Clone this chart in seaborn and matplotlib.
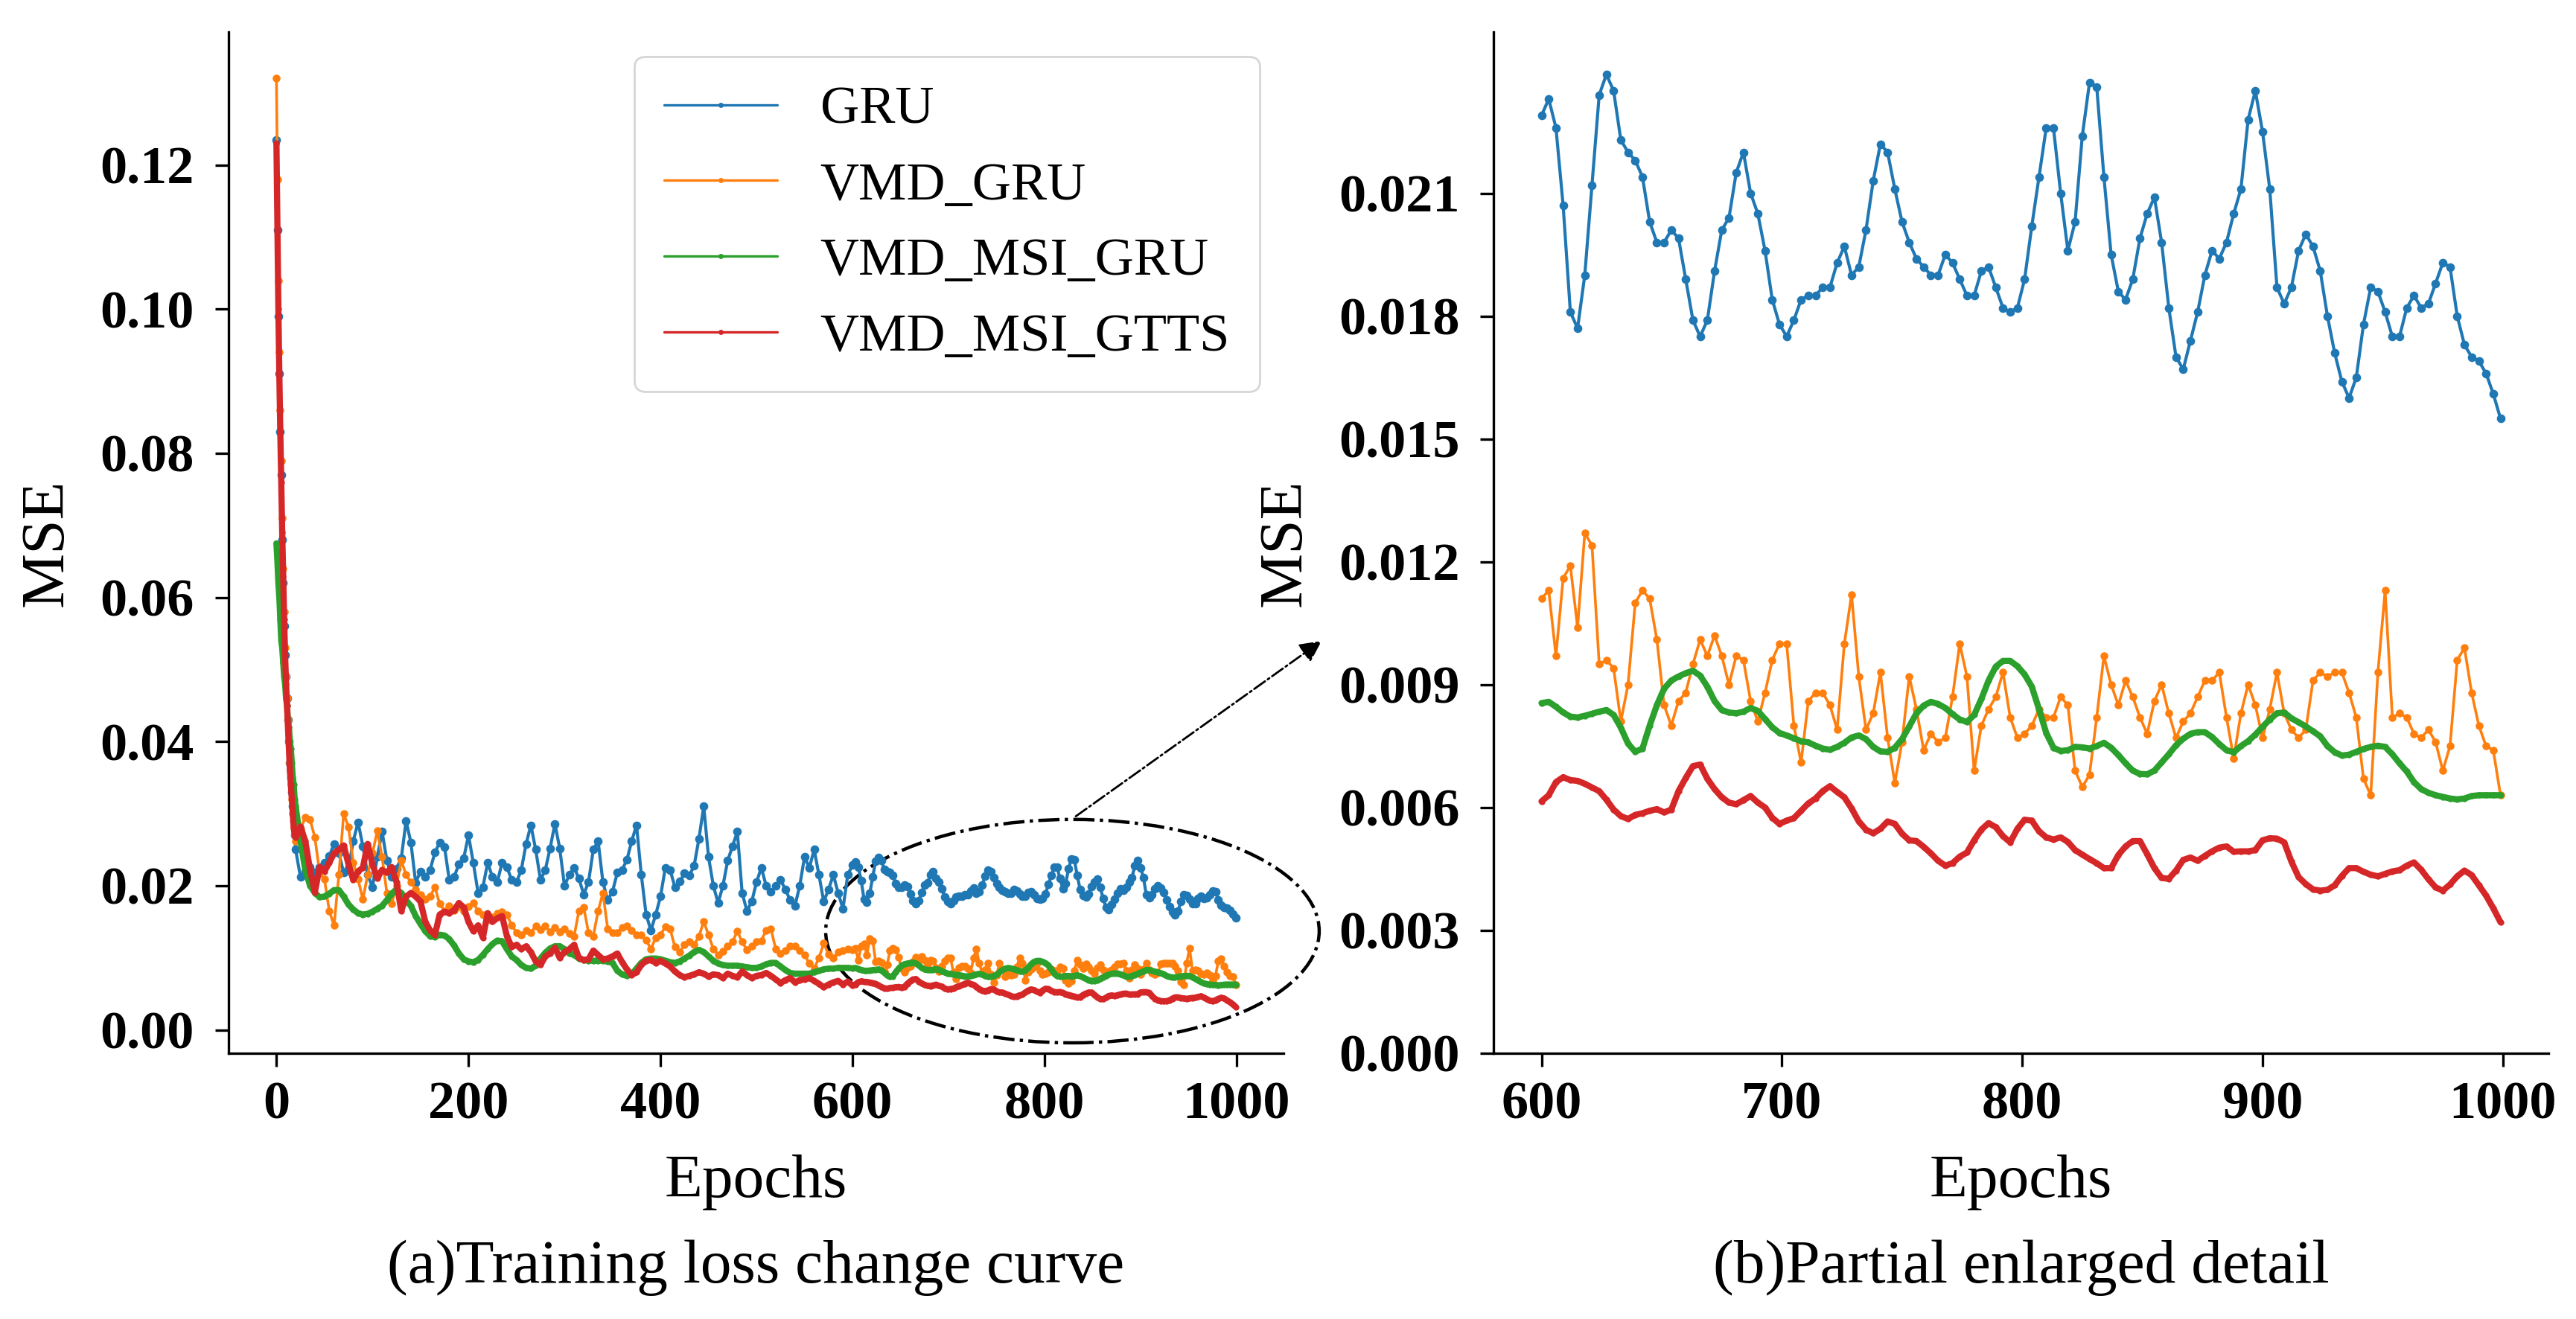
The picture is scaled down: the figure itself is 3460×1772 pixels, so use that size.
import matplotlib
matplotlib.use('Agg')
import numpy as np
import pandas as pd
import matplotlib.pyplot as plt
from matplotlib.patches import Ellipse
from matplotlib.lines import Line2D
import seaborn as sns

sns.set_style('ticks')
plt.rcParams['font.family'] = ['Liberation Serif', 'DejaVu Serif']
plt.rcParams['text.color'] = 'black'
plt.rcParams['axes.labelcolor'] = 'black'
plt.rcParams['xtick.color'] = 'black'
plt.rcParams['ytick.color'] = 'black'

MODELS = ['GRU', 'VMD_GRU', 'VMD_MSI_GRU', 'VMD_MSI_GTTS']
COLORS = ['#1f77b4', '#ff7f0e', '#2ca02c', '#d62728']

EPOCHS = list(range(0, 20)) + list(range(20, 600, 5)) + list(range(600, 1000, 3))

XTICKS_A = [0, 200, 400, 600, 800, 1000]
YTICKS_A = [0.00, 0.02, 0.04, 0.06, 0.08, 0.10, 0.12]
XTICKS_B = [600, 700, 800, 900, 1000]
YTICKS_B = [0.000, 0.003, 0.006, 0.009, 0.012, 0.015, 0.018, 0.021]

# ---- GRU ----
gru_early = [0.1235, 0.111, 0.099, 0.091, 0.083, 0.077, 0.068, 0.062, 0.056, 0.052,
             0.049, 0.046, 0.043, 0.040, 0.037, 0.035, 0.033, 0.031, 0.029, 0.027]
gru_mid = [0.0250, 0.0212, 0.0220, 0.0226, 0.0218, 0.0226, 0.0232, 0.0241, 0.0258, 0.0245,
           0.0218, 0.0224, 0.0262, 0.0288, 0.0255, 0.0215, 0.0198, 0.0240, 0.0275, 0.0235,
           0.0212, 0.0224, 0.0238, 0.0290, 0.0260, 0.0204, 0.0220, 0.0212, 0.0222, 0.0246,
           0.0260, 0.0254, 0.0208, 0.0212, 0.0230, 0.0238, 0.0270, 0.0232, 0.0190, 0.0198,
           0.0232, 0.0212, 0.0205, 0.0232, 0.0226, 0.0208, 0.0205, 0.0222, 0.0258, 0.0284,
           0.0250, 0.0208, 0.0222, 0.0252, 0.0286, 0.0252, 0.0200, 0.0215, 0.0225, 0.0210,
           0.0188, 0.0205, 0.0250, 0.0262, 0.0205, 0.0180, 0.0192, 0.0218, 0.0222, 0.0236,
           0.0262, 0.0284, 0.0215, 0.0160, 0.0138, 0.0160, 0.0185, 0.0225, 0.0222, 0.0198,
           0.0206, 0.0217, 0.0214, 0.0228, 0.0265, 0.0310, 0.0240, 0.0200, 0.0176, 0.0200,
           0.0235, 0.0255, 0.0275, 0.0190, 0.0165, 0.0178, 0.0205, 0.0225, 0.0200, 0.0192,
           0.0200, 0.0208, 0.0195, 0.0180, 0.0172, 0.0200, 0.0240, 0.0225, 0.0250, 0.0215,
           0.0178, 0.0195, 0.0215, 0.0190, 0.0168, 0.0215]
gru_late = [0.0229, 0.0233, 0.0226, 0.0207, 0.0181, 0.0177, 0.0190, 0.0212, 0.0234, 0.0239,
            0.0235, 0.0223, 0.0220, 0.0218, 0.0214, 0.0203, 0.0198, 0.0198, 0.0201, 0.0199,
            0.0189, 0.0179, 0.0175, 0.0179, 0.0191, 0.0201, 0.0204, 0.0215, 0.0220, 0.0210,
            0.0205, 0.0196, 0.0184, 0.0178, 0.0175, 0.0179, 0.0184, 0.0185, 0.0185, 0.0187,
            0.0187, 0.0193, 0.0197, 0.0190, 0.0192, 0.0201, 0.0213, 0.0222, 0.0220, 0.0211,
            0.0203, 0.0198, 0.0194, 0.0192, 0.0190, 0.0190, 0.0195, 0.0193, 0.0189, 0.0185,
            0.0185, 0.0191, 0.0192, 0.0187, 0.0182, 0.0181, 0.0182, 0.0189, 0.0202, 0.0214,
            0.0226, 0.0226, 0.0210, 0.0196, 0.0203, 0.0224, 0.0237, 0.0236, 0.0214, 0.0195,
            0.0186, 0.0184, 0.0189, 0.0199, 0.0205, 0.0209, 0.0198, 0.0182, 0.0170, 0.0167,
            0.0174, 0.0181, 0.0190, 0.0196, 0.0194, 0.0198, 0.0205, 0.0211, 0.0228, 0.0235,
            0.0225, 0.0211, 0.0187, 0.0183, 0.0187, 0.0196, 0.0200, 0.0197, 0.0191, 0.0180,
            0.0171, 0.0164, 0.0160, 0.0165, 0.0178, 0.0187, 0.0186, 0.0181, 0.0175, 0.0175,
            0.0182, 0.0185, 0.0182, 0.0183, 0.0188, 0.0193, 0.0192, 0.0180, 0.0173, 0.0170,
            0.0169, 0.0166, 0.0161, 0.0155]

# ---- VMD_GRU ----
vmd_gru_early = [0.132, 0.118, 0.104, 0.094, 0.086, 0.079, 0.071, 0.064, 0.058, 0.053,
                 0.049, 0.046, 0.043, 0.040, 0.037, 0.034, 0.032, 0.030, 0.028, 0.027]
vmd_gru_mid = [0.0262, 0.0278, 0.0295, 0.0292, 0.0267, 0.0218, 0.0209, 0.0165, 0.0145, 0.0215,
               0.0300, 0.0282, 0.0232, 0.0209, 0.0181, 0.0215, 0.0245, 0.0276, 0.0240, 0.0190,
               0.0175, 0.0200, 0.0235, 0.0215, 0.0205, 0.0195, 0.0188, 0.0181, 0.0185, 0.0198,
               0.0175, 0.0165, 0.0172, 0.0166, 0.0171, 0.0165, 0.0171, 0.0176, 0.0165, 0.0160,
               0.0152, 0.0157, 0.0162, 0.0164, 0.0160, 0.0145, 0.0135, 0.0132, 0.0138, 0.0135,
               0.0144, 0.0139, 0.0144, 0.0136, 0.0142, 0.0136, 0.0140, 0.0134, 0.0130, 0.0165,
               0.0170, 0.0135, 0.0130, 0.0165, 0.0190, 0.0140, 0.0135, 0.0135, 0.0142, 0.0144,
               0.0138, 0.0132, 0.0132, 0.0125, 0.0112, 0.0128, 0.0132, 0.0143, 0.0140, 0.0115,
               0.0108, 0.0118, 0.0122, 0.0118, 0.0130, 0.0150, 0.0132, 0.0112, 0.0104, 0.0109,
               0.0116, 0.0122, 0.0137, 0.0122, 0.0111, 0.0116, 0.0122, 0.0124, 0.0138, 0.0140,
               0.0112, 0.0106, 0.0110, 0.0116, 0.0116, 0.0110, 0.0104, 0.0092, 0.0085, 0.0100,
               0.0120, 0.0105, 0.0100, 0.0108, 0.0110, 0.0112]
vmd_gru_late = [0.0111, 0.0113, 0.0097, 0.0116, 0.0119, 0.0104, 0.0127, 0.0124, 0.0095, 0.0096,
                0.0094, 0.0081, 0.0090, 0.0110, 0.0113, 0.0111, 0.0101, 0.0085, 0.0080, 0.0086,
                0.0088, 0.0095, 0.0101, 0.0097, 0.0102, 0.0097, 0.0090, 0.0097, 0.0096, 0.0086,
                0.0081, 0.0088, 0.0096, 0.0100, 0.0100, 0.0080, 0.0071, 0.0086, 0.0088, 0.0088,
                0.0085, 0.0079, 0.0100, 0.0112, 0.0092, 0.0079, 0.0083, 0.0093, 0.0077, 0.0066,
                0.0076, 0.0092, 0.0084, 0.0074, 0.0078, 0.0076, 0.0077, 0.0087, 0.0100, 0.0092,
                0.0069, 0.0080, 0.0084, 0.0087, 0.0093, 0.0082, 0.0077, 0.0078, 0.0080, 0.0084,
                0.0082, 0.0082, 0.0087, 0.0085, 0.0069, 0.0065, 0.0068, 0.0082, 0.0097, 0.0090,
                0.0085, 0.0091, 0.0087, 0.0082, 0.0078, 0.0086, 0.0090, 0.0083, 0.0077, 0.0081,
                0.0083, 0.0087, 0.0091, 0.0091, 0.0093, 0.0082, 0.0072, 0.0083, 0.0090, 0.0085,
                0.0077, 0.0084, 0.0093, 0.0083, 0.0079, 0.0077, 0.0079, 0.0091, 0.0093, 0.0092,
                0.0093, 0.0093, 0.0088, 0.0082, 0.0067, 0.0063, 0.0093, 0.0113, 0.0082, 0.0083,
                0.0082, 0.0078, 0.0077, 0.0079, 0.0076, 0.0069, 0.0075, 0.0096, 0.0099, 0.0088,
                0.0080, 0.0075, 0.0074, 0.0063]

# ---- VMD_MSI_GRU ----
vmd_msi_gru_early = [0.0675, 0.065, 0.062, 0.060, 0.057, 0.054, 0.053, 0.051, 0.049, 0.048,
                     0.046, 0.045, 0.043, 0.042, 0.040, 0.039, 0.037, 0.035, 0.034, 0.032]
vmd_msi_gru_mid = [0.0310, 0.0262, 0.0222, 0.0200, 0.0190, 0.0184, 0.0185, 0.0189, 0.0194, 0.0194,
                   0.0185, 0.0174, 0.0167, 0.0162, 0.0160, 0.0161, 0.0164, 0.0168, 0.0172, 0.0180,
                   0.0189, 0.0195, 0.0190, 0.0180, 0.0172, 0.0158, 0.0147, 0.0137, 0.0130, 0.0129,
                   0.0132, 0.0131, 0.0126, 0.0117, 0.0106, 0.0098, 0.0095, 0.0094, 0.0097, 0.0104,
                   0.0112, 0.0119, 0.0124, 0.0123, 0.0112, 0.0102, 0.0097, 0.0090, 0.0086, 0.0085,
                   0.0089, 0.0099, 0.0107, 0.0113, 0.0116, 0.0116, 0.0112, 0.0106, 0.0104, 0.0099,
                   0.0097, 0.0096, 0.0096, 0.0096, 0.0096, 0.0095, 0.0093, 0.0082, 0.0077, 0.0075,
                   0.0077, 0.0085, 0.0093, 0.0098, 0.0099, 0.0099, 0.0098, 0.0096, 0.0094, 0.0093,
                   0.0095, 0.0099, 0.0103, 0.0108, 0.0111, 0.0108, 0.0102, 0.0096, 0.0092, 0.0090,
                   0.0089, 0.0089, 0.0089, 0.0088, 0.0087, 0.0086, 0.0086, 0.0088, 0.0091, 0.0093,
                   0.0093, 0.0088, 0.0083, 0.0079, 0.0078, 0.0078, 0.0078, 0.0078, 0.0080, 0.0082,
                   0.0084, 0.0085, 0.0085, 0.0086, 0.0086, 0.0086]
vmd_msi_gru_late = [0.00855, 0.00858, 0.00846, 0.00832, 0.00822, 0.00820, 0.00824, 0.00829, 0.00834, 0.00838,
                    0.00826, 0.00795, 0.00756, 0.00736, 0.00744, 0.00800, 0.00850, 0.00890, 0.00910, 0.00920,
                    0.00928, 0.00934, 0.00922, 0.00895, 0.00860, 0.00838, 0.00832, 0.00830, 0.00834, 0.00843,
                    0.00836, 0.00816, 0.00796, 0.00782, 0.00776, 0.00769, 0.00762, 0.00759, 0.00751, 0.00744,
                    0.00741, 0.00748, 0.00758, 0.00771, 0.00776, 0.00767, 0.00748, 0.00737, 0.00736, 0.00746,
                    0.00767, 0.00798, 0.00830, 0.00849, 0.00858, 0.00853, 0.00843, 0.00828, 0.00815, 0.00809,
                    0.00826, 0.00865, 0.00910, 0.00944, 0.00958, 0.00958, 0.00945, 0.00925, 0.00895, 0.00840,
                    0.00782, 0.00746, 0.00738, 0.00740, 0.00748, 0.00747, 0.00744, 0.00750, 0.00758, 0.00746,
                    0.00728, 0.00708, 0.00690, 0.00682, 0.00681, 0.00690, 0.00710, 0.00730, 0.00752, 0.00768,
                    0.00780, 0.00784, 0.00784, 0.00772, 0.00755, 0.00740, 0.00735, 0.00750, 0.00762, 0.00778,
                    0.00797, 0.00815, 0.00830, 0.00832, 0.00818, 0.00808, 0.00798, 0.00786, 0.00774, 0.00750,
                    0.00735, 0.00727, 0.00729, 0.00736, 0.00743, 0.00748, 0.00751, 0.00748, 0.00730, 0.00708,
                    0.00688, 0.00662, 0.00645, 0.00636, 0.00630, 0.00626, 0.00622, 0.00620, 0.00622, 0.00628,
                    0.00630, 0.00630, 0.00630, 0.00630]

# ---- VMD_MSI_GTTS ----
vmd_msi_gtts_early = [0.123, 0.111, 0.100, 0.091, 0.083, 0.076, 0.069, 0.063, 0.057, 0.052,
                      0.048, 0.045, 0.042, 0.039, 0.036, 0.034, 0.032, 0.030, 0.028, 0.027]
vmd_msi_gtts_mid = [0.0267, 0.0282, 0.0262, 0.0222, 0.0191, 0.0226, 0.0220, 0.0232, 0.0245, 0.0250,
                    0.0256, 0.0230, 0.0208, 0.0220, 0.0225, 0.0258, 0.0230, 0.0210, 0.0222, 0.0218,
                    0.0226, 0.0205, 0.0165, 0.0185, 0.0190, 0.0185, 0.0178, 0.0150, 0.0138, 0.0132,
                    0.0160, 0.0164, 0.0162, 0.0166, 0.0176, 0.0170, 0.0150, 0.0137, 0.0145, 0.0128,
                    0.0162, 0.0150, 0.0155, 0.0158, 0.0130, 0.0115, 0.0118, 0.0112, 0.0116, 0.0108,
                    0.0095, 0.0090, 0.0102, 0.0106, 0.0114, 0.0100, 0.0108, 0.0112, 0.0118, 0.0100,
                    0.0097, 0.0098, 0.0110, 0.0104, 0.0098, 0.0099, 0.0102, 0.0106, 0.0094, 0.0084,
                    0.0076, 0.0080, 0.0090, 0.0096, 0.0097, 0.0093, 0.0096, 0.0092, 0.0088, 0.0081,
                    0.0076, 0.0073, 0.0075, 0.0077, 0.0080, 0.0078, 0.0074, 0.0077, 0.0076, 0.0072,
                    0.0078, 0.0075, 0.0073, 0.0081, 0.0076, 0.0072, 0.0075, 0.0076, 0.0079, 0.0075,
                    0.0070, 0.0065, 0.0069, 0.0072, 0.0066, 0.0069, 0.0070, 0.0072, 0.0068, 0.0064,
                    0.0059, 0.0063, 0.0066, 0.0068, 0.0063, 0.0067]
vmd_msi_gtts_late = [0.00615, 0.00630, 0.00662, 0.00674, 0.00667, 0.00665, 0.00658, 0.00649, 0.00640, 0.00619,
                     0.00595, 0.00579, 0.00572, 0.00582, 0.00586, 0.00592, 0.00596, 0.00588, 0.00595, 0.00640,
                     0.00672, 0.00701, 0.00705, 0.00670, 0.00645, 0.00625, 0.00612, 0.00608, 0.00618, 0.00628,
                     0.00612, 0.00600, 0.00575, 0.00560, 0.00568, 0.00574, 0.00592, 0.00610, 0.00622, 0.00640,
                     0.00652, 0.00638, 0.00625, 0.00598, 0.00566, 0.00546, 0.00537, 0.00548, 0.00566, 0.00560,
                     0.00536, 0.00520, 0.00518, 0.00504, 0.00488, 0.00470, 0.00458, 0.00464, 0.00480, 0.00490,
                     0.00520, 0.00546, 0.00562, 0.00552, 0.00530, 0.00515, 0.00548, 0.00570, 0.00568, 0.00542,
                     0.00527, 0.00522, 0.00527, 0.00516, 0.00496, 0.00485, 0.00474, 0.00464, 0.00452, 0.00452,
                     0.00484, 0.00505, 0.00518, 0.00518, 0.00486, 0.00452, 0.00428, 0.00426, 0.00446, 0.00472,
                     0.00478, 0.00470, 0.00482, 0.00493, 0.00502, 0.00505, 0.00492, 0.00493, 0.00493, 0.00496,
                     0.00520, 0.00525, 0.00524, 0.00515, 0.00468, 0.00430, 0.00413, 0.00400, 0.00397, 0.00399,
                     0.00410, 0.00433, 0.00452, 0.00452, 0.00443, 0.00436, 0.00432, 0.00438, 0.00444, 0.00447,
                     0.00458, 0.00466, 0.00448, 0.00425, 0.00405, 0.00397, 0.00412, 0.00432, 0.00446, 0.00435,
                     0.00410, 0.00385, 0.00354, 0.00320]

series = {
    'GRU': gru_early + gru_mid + gru_late,
    'VMD_GRU': vmd_gru_early + vmd_gru_mid + vmd_gru_late,
    'VMD_MSI_GRU': vmd_msi_gru_early + vmd_msi_gru_mid + vmd_msi_gru_late,
    'VMD_MSI_GTTS': vmd_msi_gtts_early + vmd_msi_gtts_mid + vmd_msi_gtts_late,
}

frames = []
for name in MODELS:
    assert len(series[name]) == len(EPOCHS), (name, len(series[name]), len(EPOCHS))
    frames.append(pd.DataFrame({'Epochs': EPOCHS, 'MSE': series[name], 'Model': name}))
df = pd.concat(frames, ignore_index=True)

LW = {'GRU': 1.5, 'VMD_GRU': 1.3, 'VMD_MSI_GRU': 3.0, 'VMD_MSI_GTTS': 3.0}
MS = {'GRU': 4.2, 'VMD_GRU': 3.8, 'VMD_MSI_GRU': 3.0, 'VMD_MSI_GTTS': 3.0}


def draw(ax, data):
    for name, color in zip(MODELS, COLORS):
        sns.lineplot(data=data[data['Model'] == name], x='Epochs', y='MSE', color=color,
                     marker='o', markersize=MS[name], markeredgewidth=0, linewidth=LW[name],
                     errorbar=None, legend=False, ax=ax)


fig = plt.figure(figsize=(17.3, 8.86), dpi=200)
ax1 = fig.add_axes([0.0887, 0.2015, 0.4096, 0.7742])
ax2 = fig.add_axes([0.5798, 0.2015, 0.4095, 0.7742])

draw(ax1, df)
draw(ax2, df[df['Epochs'] >= 600])
ax2.set_ylim(bottom=0)

tick_font = dict(fontsize=26, fontweight='bold', family='Liberation Serif')
for ax, xt, yt, yf in [(ax1, XTICKS_A, YTICKS_A, '%.2f'), (ax2, XTICKS_B, YTICKS_B, '%.3f')]:
    ax.set_xticks(xt, labels=['%d' % t for t in xt], **tick_font)
    ax.set_yticks(yt, labels=[yf % t for t in yt], **tick_font)
    ax.tick_params(axis='both', length=6.5, width=1.2, color='black', labelcolor='black')
    ax.tick_params(axis='x', pad=7)
    ax.tick_params(axis='y', pad=10)
    ax.set_xlabel('Epochs', fontsize=30, labelpad=12)
    ax.set_ylabel('MSE', fontsize=30, labelpad=12)
    for s in ['left', 'bottom']:
        ax.spines[s].set_linewidth(1.2)
        ax.spines[s].set_color('black')
    sns.despine(ax=ax)

handles = [Line2D([0], [0], color=c, lw=1.2, marker='o', markersize=2.5, markeredgewidth=0)
           for c in COLORS]
leg = ax1.legend(handles, MODELS, loc='upper right', fontsize=26, frameon=True, fancybox=True,
                 framealpha=0.8, edgecolor='0.8', handlelength=2.1, handletextpad=0.8,
                 labelspacing=0.5, borderpad=0.55, borderaxespad=0.45)

# zoom marker: dash-dot ellipse around the last 400 epochs and an arrow to panel (b)
# (add_artist so the ellipse does not stretch the autoscaled limits)
ax1.add_artist(Ellipse((829, 0.0137), width=514, height=0.031, fill=False, ls='-.',
                       lw=1.6, color='black', clip_on=False, transform=ax1.transData))
ax1.annotate('', xy=(1092, 0.0543), xytext=(829, 0.0293),
             arrowprops=dict(arrowstyle='-|>', ls='-.', lw=1.0, color='black', mutation_scale=22),
             annotation_clip=False)

fig.text(0.0887 + 0.4096 / 2, 0.039, '(a)Training loss change curve', ha='center', va='center', fontsize=30)
fig.text(0.5798 + 0.4095 / 2, 0.039, '(b)Partial enlarged detail', ha='center', va='center', fontsize=30)

fig.savefig('out.png', dpi=200, facecolor='white')
